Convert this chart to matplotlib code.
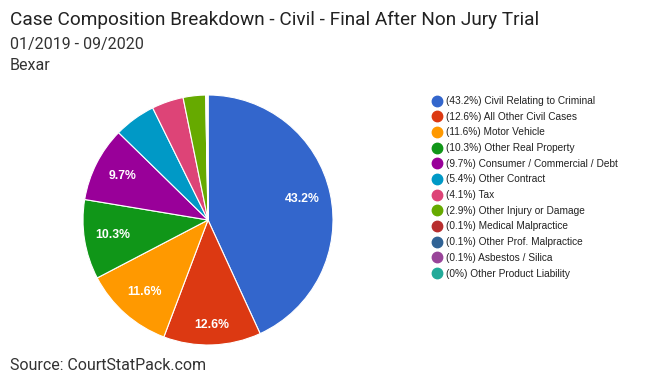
import numpy as np
import matplotlib.pyplot as plt
from matplotlib.lines import Line2D

plt.rcParams['font.family'] = ['Roboto', 'DejaVu Sans']

categories = ['Civil Relating to Criminal', 'All Other Civil Cases', 'Motor Vehicle',
              'Other Real Property', 'Consumer / Commercial / Debt', 'Other Contract',
              'Tax', 'Other Injury or Damage', 'Medical Malpractice',
              'Other Prof. Malpractice', 'Asbestos / Silica', 'Other Product Liability']
shares = [43.2, 12.6, 11.6, 10.3, 9.7, 5.4, 4.1, 2.9, 0.1, 0.1, 0.1, 0.0]
pct_labels = ['43.2', '12.6', '11.6', '10.3', '9.7', '5.4', '4.1', '2.9', '0.1', '0.1', '0.1', '0']
colors = ['#3366cc', '#dc3912', '#ff9900', '#109618', '#990099', '#0099c6',
          '#dd4477', '#66aa00', '#b82e2e', '#316395', '#994499', '#22aa99']

fig = plt.figure(figsize=(6.71, 3.81), dpi=100)
ax = fig.add_axes([83 / 671, 1 - 345 / 381, 250 / 671, 250 / 381])

wedges, _ = ax.pie(shares, colors=colors, startangle=90, counterclock=False,
                   wedgeprops=dict(edgecolor='white', linewidth=0.8))
ax.set_xlim(-1.0, 1.0)
ax.set_ylim(-1.0, 1.0)
ax.set_aspect('equal')

for w, s, p in zip(wedges, shares, pct_labels):
    if s < 9:
        continue
    ang = np.deg2rad((w.theta1 + w.theta2) / 2)
    d = 0.84 if p == '12.6' else 0.77
    ax.text(d * np.cos(ang), d * np.sin(ang), p + '%', ha='center', va='center',
            color='white', fontsize=8.8, fontweight='bold', family=['Liberation Sans', 'DejaVu Sans'])

handles = [Line2D([], [], marker='o', linestyle='', markersize=7.5,
                  markerfacecolor=c, markeredgecolor=c) for c in colors]
labels = ['(%s%%) %s' % (p, c) for p, c in zip(pct_labels, categories)]
fig.legend(handles, labels, loc='upper left', bbox_to_anchor=(427 / 671, 1 - 92 / 381),
           frameon=False, handletextpad=0.25, labelspacing=0.56,
           borderaxespad=0, handlelength=1.2, labelcolor='#222222',
           prop={'family': ['Liberation Sans', 'DejaVu Sans'], 'size': 7.3})

fig.text(10 / 671, 1 - 20 / 381, 'Case Composition Breakdown - Civil - Final After Non Jury Trial',
         fontsize=13.7, color='#222222', va='center', ha='left')
fig.text(10 / 671, 1 - 44 / 381, '01/2019 - 09/2020', fontsize=11.5, color='#333333',
         va='center', ha='left')
fig.text(10 / 671, 1 - 66 / 381, 'Bexar', fontsize=11.5, color='#333333', va='center', ha='left')
fig.text(10 / 671, 1 - 365 / 381, 'Source: CourtStatPack.com', fontsize=11.5, color='#333333',
         va='center', ha='left')

fig.savefig('out.png', dpi=100)
